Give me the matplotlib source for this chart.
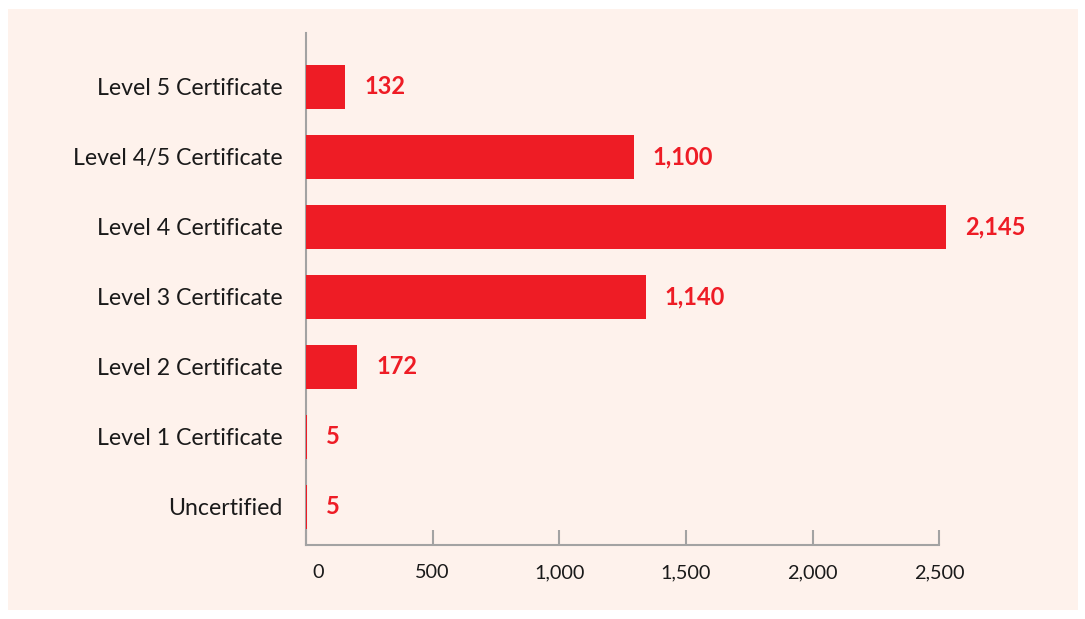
import matplotlib
matplotlib.use("Agg")
import matplotlib.pyplot as plt
from matplotlib.patches import Rectangle
from matplotlib.transforms import ScaledTranslation

categories = ["Uncertified", "Level 1 Certificate", "Level 2 Certificate",
              "Level 3 Certificate", "Level 4 Certificate", "Level 4/5 Certificate",
              "Level 5 Certificate"]
values = [5, 5, 172, 1140, 2145, 1100, 132]
value_labels = ["5", "5", "172", "1,140", "2,145", "1,100", "132"]
tick_values = [0, 500, 1000, 1500, 2000, 2500]
tick_labels = ["0", "500", "1,000", "1,500", "2,000", "2,500"]
axis_scale = 1.178  # the printed axis is stretched relative to the bars

RED = "#EE1C25"
PEACH = "#FEF2EC"
GRAY = "#A3A3A3"
FONT = "Lato"

W, H = 1085, 619
fig = plt.figure(figsize=(W / 100, H / 100), dpi=100, facecolor="white")
bg = Rectangle((8 / W, 1 - 610 / H), (1078 - 8) / W, (610 - 9) / H,
               transform=fig.transFigure, facecolor=PEACH, edgecolor="none",
               zorder=-10)
fig.add_artist(bg)

left, right, top, bottom = 306, 1060, 33, 545
ax = fig.add_axes([left / W, 1 - bottom / H, (right - left) / W, (bottom - top) / H])
ax.set_facecolor("none")
ax.set_zorder(5)

ypos = list(range(len(categories)))
ax.barh(ypos, values, height=0.64, color=RED, zorder=3)

px_per_unit = 640 / 2145
ax.set_xlim(0, (right - left) / px_per_unit)
ax.set_ylim(-0.543, 6.77)

for y, v, lab in zip(ypos, values, value_labels):
    ax.annotate(lab, (v, y), xytext=(13.5, 0), textcoords="offset points",
                ha="left", va="center", color=RED, fontsize=17,
                fontweight="bold", family=FONT)

ticks = [t / axis_scale for t in tick_values]
ax.set_xticks(ticks)
ax.set_xticklabels(tick_labels, fontsize=14.3, family=FONT, color="#1a1a1a")
ax.set_yticks(ypos)
ax.set_yticklabels(categories, fontsize=16.7, family=FONT, color="#1a1a1a")
ax.tick_params(axis="x", direction="in", length=11, width=1.5, color=GRAY, pad=14)
ax.tick_params(axis="y", length=0, pad=17)

# the "0" label sits slightly right of its tick in the reference
lab0 = ax.get_xticklabels()[0]
lab0.set_transform(lab0.get_transform() + ScaledTranslation(12 / 100, 0, fig.dpi_scale_trans))

for s in ["top", "right"]:
    ax.spines[s].set_visible(False)
for s in ["left", "bottom"]:
    ax.spines[s].set_color(GRAY)
    ax.spines[s].set_linewidth(1.5)
ax.spines["bottom"].set_bounds(0, ticks[-1])

fig.savefig("out.png", dpi=100, facecolor="white")
